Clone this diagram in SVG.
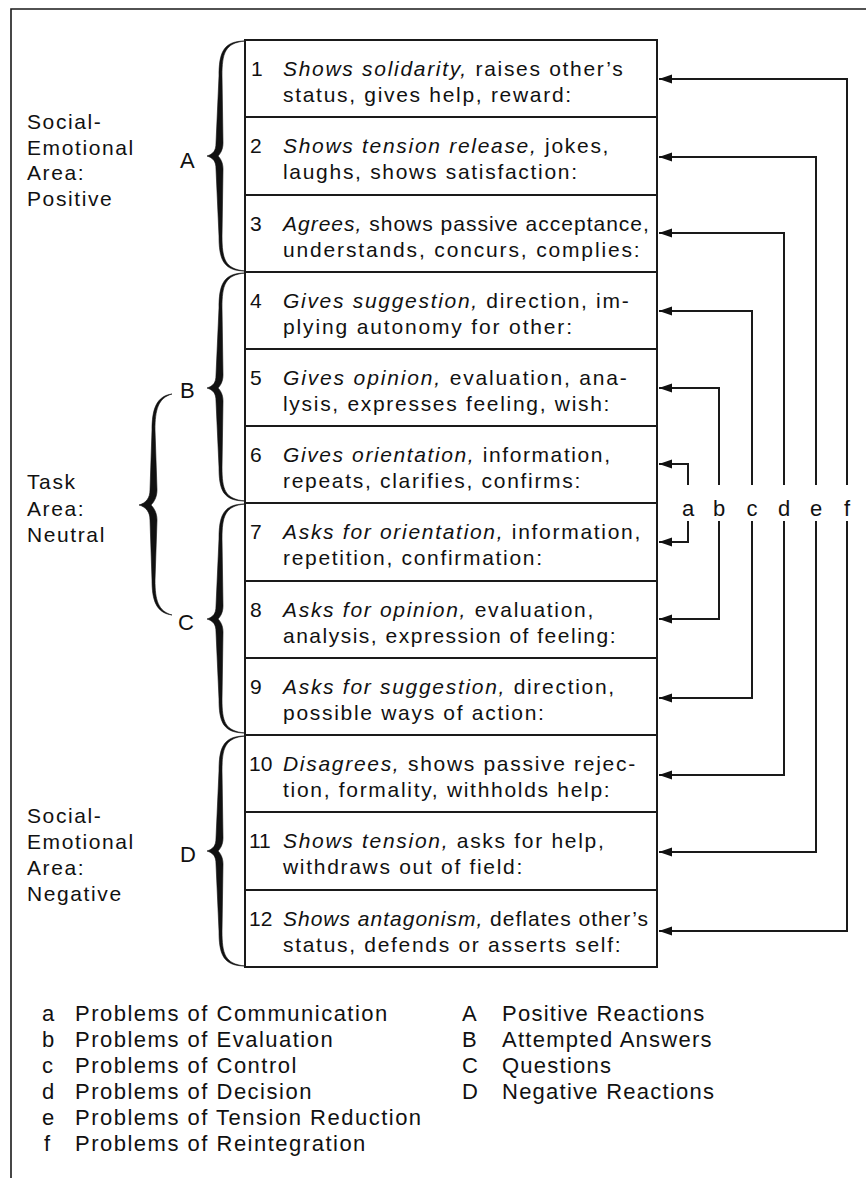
<svg xmlns="http://www.w3.org/2000/svg" width="866" height="1178" viewBox="0 0 866 1178">
  <style>
    .bg { fill: #ffffff; }
    .frame { fill: none; stroke: #1a1a1a; stroke-width: 1.6; }
    .cell { fill: #ffffff; stroke: #1a1a1a; stroke-width: 2; }
    .brace { fill: #111111; stroke: #111111; stroke-width: 0.6; stroke-linejoin: round; }
    .link { fill: none; stroke: #1a1a1a; stroke-width: 2; }
    text { font-family: "Liberation Sans", Arial, Helvetica, sans-serif; fill: #111111; }
    .row { font-size: 21px; letter-spacing: 1.7px; }
    .tight { letter-spacing: 1px; }
    .num { letter-spacing: 0px; }
    .em { font-style: italic; }
    .area { font-size: 21px; letter-spacing: 1.6px; }
    .cap { font-size: 22px; }
    .key { font-size: 22px; text-anchor: middle; }
    .legend { font-size: 22px; letter-spacing: 1.5px; }
    .legend-r { font-size: 22px; letter-spacing: 1.25px; }
  </style>
  <defs>
    <marker id="head" markerUnits="userSpaceOnUse" markerWidth="14" markerHeight="10" refX="13" refY="5" orient="auto">
      <path d="M0,0.5 L13,5 L0,9.5 Z" fill="#111111"/>
    </marker>
  </defs>

  <rect class="bg" x="0" y="0" width="866" height="1178"/>

  <!-- outer frame: top and left rules -->
  <path class="frame" d="M11,1178 V9 H866"/>

  <!-- area labels -->
  <g id="area-positive">
    <text class="area" x="27" y="129">Social-</text>
    <text class="area" x="27" y="155">Emotional</text>
    <text class="area" x="27" y="180">Area:</text>
    <text class="area" x="27" y="206">Positive</text>
  </g>
  <g id="area-neutral">
    <text class="area" x="27" y="489">Task</text>
    <text class="area" x="27" y="516">Area:</text>
    <text class="area" x="27" y="542">Neutral</text>
  </g>
  <g id="area-negative">
    <text class="area" x="27" y="823">Social-</text>
    <text class="area" x="27" y="849">Emotional</text>
    <text class="area" x="27" y="875">Area:</text>
    <text class="area" x="27" y="901">Negative</text>
  </g>

  <!-- group braces: thin at the ends, swelling toward the centre point -->
  <g id="brace-A">
    <path class="brace" d="M245,41 C223,41 219,53 219,76 L216,143 C216,151 213,154 207,156 C213,158 216,161 216,169 L219,236 C219,259 223,271 245,271 C225,269 222,259 222,236 L223,169 C223,162 220,158 218,156 C220,154 223,150 223,143 L222,76 C222,53 225,43 245,41 Z"/>
    <text class="cap" x="180" y="168">A</text>
  </g>
  <g id="brace-B">
    <path class="brace" d="M245,273 C223,273 219,285 219,308 L216,375 C216,383 213,386 207,388 C213,390 216,393 216,401 L219,467 C219,490 223,501 245,501 C225,499 222,490 222,467 L223,401 C223,394 220,390 218,388 C220,386 223,382 223,375 L222,308 C222,285 225,275 245,273 Z"/>
    <text class="cap" x="180" y="398">B</text>
  </g>
  <g id="brace-C">
    <path class="brace" d="M245,504 C223,504 219,516 219,539 L216,606 C216,614 213,617 207,619 C213,621 216,624 216,632 L219,699 C219,722 223,733 245,733 C225,731 222,722 222,699 L223,632 C223,625 220,621 218,619 C220,617 223,613 223,606 L222,539 C222,516 225,506 245,504 Z"/>
    <text class="cap" x="178" y="630">C</text>
  </g>
  <g id="brace-D">
    <path class="brace" d="M245,736 C223,736 219,748 219,771 L216,838 C216,846 213,849 207,851 C213,853 216,856 216,864 L219,931 C219,954 223,966 245,966 C225,964 222,954 222,931 L223,864 C223,857 220,853 218,851 C220,849 223,845 223,838 L222,771 C222,748 225,738 245,736 Z"/>
    <text class="cap" x="180" y="862">D</text>
  </g>
  <g id="brace-task">
    <path class="brace" d="M172,394 C156,396 152,410 152,430 L150,490 C150,498 146,503 139,505 C146,507 150,512 150,520 L152,580 C152,600 156,613 172,615 C158,611 155,600 155,580 L157,520 C157,513 154,508 151,505 C154,502 157,497 157,490 L155,430 C155,410 158,398 172,394 Z"/>
  </g>

  <!-- category table -->
  <g id="row-1">
    <rect class="cell" x="245" y="40" width="412" height="77"/>
    <text class="row" y="76"><tspan class="num" x="251">1</tspan><tspan class="em" x="283">Shows solidarity,</tspan> raises other’s</text>
    <text class="row" x="283" y="102">status, gives help, reward:</text>
  </g>
  <g id="row-2">
    <rect class="cell" x="245" y="117" width="412" height="78"/>
    <text class="row" y="153"><tspan class="num" x="250">2</tspan><tspan class="em" x="283">Shows tension release,</tspan> jokes,</text>
    <text class="row" x="283" y="179">laughs, shows satisfaction:</text>
  </g>
  <g id="row-3">
    <rect class="cell" x="245" y="195" width="412" height="77"/>
    <text class="row tight" y="231"><tspan class="num" x="250">3</tspan><tspan class="em" x="283">Agrees,</tspan> shows passive acceptance,</text>
    <text class="row" x="283" y="257" style="letter-spacing:1.85px">understands, concurs, complies:</text>
  </g>
  <g id="row-4">
    <rect class="cell" x="245" y="272" width="412" height="77"/>
    <text class="row" y="308"><tspan class="num" x="250">4</tspan><tspan class="em" x="283">Gives suggestion,</tspan> direction, im-</text>
    <text class="row" x="283" y="334" style="letter-spacing:1.85px">plying autonomy for other:</text>
  </g>
  <g id="row-5">
    <rect class="cell" x="245" y="349" width="412" height="77"/>
    <text class="row" y="385" style="letter-spacing:1.85px"><tspan class="num" x="250">5</tspan><tspan class="em" x="283">Gives opinion,</tspan> evaluation, ana-</text>
    <text class="row" x="283" y="411">lysis, expresses feeling, wish:</text>
  </g>
  <g id="row-6">
    <rect class="cell" x="245" y="426" width="412" height="77"/>
    <text class="row" y="462" style="letter-spacing:1.6px"><tspan class="num" x="250">6</tspan><tspan class="em" x="283">Gives orientation,</tspan> information,</text>
    <text class="row" x="283" y="488">repeats, clarifies, confirms:</text>
  </g>
  <g id="row-7">
    <rect class="cell" x="245" y="503" width="412" height="78"/>
    <text class="row" y="539"><tspan class="num" x="250">7</tspan><tspan class="em" x="283">Asks for orientation,</tspan> information,</text>
    <text class="row" x="283" y="565">repetition, confirmation:</text>
  </g>
  <g id="row-8">
    <rect class="cell" x="245" y="581" width="412" height="77"/>
    <text class="row" y="617"><tspan class="num" x="250">8</tspan><tspan class="em" x="283">Asks for opinion,</tspan> evaluation,</text>
    <text class="row" x="283" y="643" style="letter-spacing:1.5px">analysis, expression of feeling:</text>
  </g>
  <g id="row-9">
    <rect class="cell" x="245" y="658" width="412" height="77"/>
    <text class="row" y="694"><tspan class="num" x="250">9</tspan><tspan class="em" x="283">Asks for suggestion,</tspan> direction,</text>
    <text class="row" x="283" y="720">possible ways of action:</text>
  </g>
  <g id="row-10">
    <rect class="cell" x="245" y="735" width="412" height="77"/>
    <text class="row" y="771"><tspan class="num" x="249">10</tspan><tspan class="em" x="283">Disagrees,</tspan> shows passive rejec-</text>
    <text class="row" x="283" y="797">tion, formality, withholds help:</text>
  </g>
  <g id="row-11">
    <rect class="cell" x="245" y="812" width="412" height="78"/>
    <text class="row" y="848"><tspan class="num" x="249">11</tspan><tspan class="em" x="283">Shows tension,</tspan> asks for help,</text>
    <text class="row" x="283" y="874">withdraws out of field:</text>
  </g>
  <g id="row-12">
    <rect class="cell" x="245" y="890" width="412" height="77"/>
    <text class="row tight" y="926"><tspan class="num" x="249">12</tspan><tspan class="em" x="283">Shows antagonism,</tspan> deflates other’s</text>
    <text class="row" x="283" y="952">status, defends or asserts self:</text>
  </g>

  <!-- problem connectors: each column feeds back into a pair of categories -->
  <g id="connectors">
    <path class="link" marker-end="url(#head)" d="M688,485 V464 H659"/>
    <path class="link" marker-end="url(#head)" d="M688,521 V542 H659"/>
    <path class="link" marker-end="url(#head)" d="M719,485 V388 H659"/>
    <path class="link" marker-end="url(#head)" d="M719,521 V619 H659"/>
    <path class="link" marker-end="url(#head)" d="M752,485 V311 H659"/>
    <path class="link" marker-end="url(#head)" d="M752,521 V698 H659"/>
    <path class="link" marker-end="url(#head)" d="M784,485 V233 H659"/>
    <path class="link" marker-end="url(#head)" d="M784,521 V775 H659"/>
    <path class="link" marker-end="url(#head)" d="M816,485 V157 H659"/>
    <path class="link" marker-end="url(#head)" d="M816,521 V852 H659"/>
    <path class="link" marker-end="url(#head)" d="M847,485 V79 H659"/>
    <path class="link" marker-end="url(#head)" d="M847,521 V931 H659"/>
  </g>

  <!-- problem column letters -->
  <g id="problem-keys">
    <text class="key" x="688" y="516">a</text>
    <text class="key" x="719" y="516">b</text>
    <text class="key" x="752" y="516">c</text>
    <text class="key" x="784" y="516">d</text>
    <text class="key" x="816" y="516">e</text>
    <text class="key" x="847" y="516">f</text>
  </g>

  <!-- legend -->
  <g id="legend-problems">
    <text class="legend" x="42" y="1021">a</text><text class="legend" x="75" y="1021">Problems of Communication</text>
    <text class="legend" x="42" y="1047">b</text><text class="legend" x="75" y="1047">Problems of Evaluation</text>
    <text class="legend" x="42" y="1073">c</text><text class="legend" x="75" y="1073">Problems of Control</text>
    <text class="legend" x="42" y="1099">d</text><text class="legend" x="75" y="1099">Problems of Decision</text>
    <text class="legend" x="42" y="1125">e</text><text class="legend" x="75" y="1125">Problems of Tension Reduction</text>
    <text class="legend" x="44" y="1151">f</text><text class="legend" x="75" y="1151">Problems of Reintegration</text>
  </g>
  <g id="legend-reactions">
    <text class="legend-r" x="462" y="1021">A</text><text class="legend-r" x="502" y="1021">Positive Reactions</text>
    <text class="legend-r" x="462" y="1047">B</text><text class="legend-r" x="502" y="1047">Attempted Answers</text>
    <text class="legend-r" x="462" y="1073">C</text><text class="legend-r" x="502" y="1073">Questions</text>
    <text class="legend-r" x="462" y="1099">D</text><text class="legend-r" x="502" y="1099">Negative Reactions</text>
  </g>
</svg>
